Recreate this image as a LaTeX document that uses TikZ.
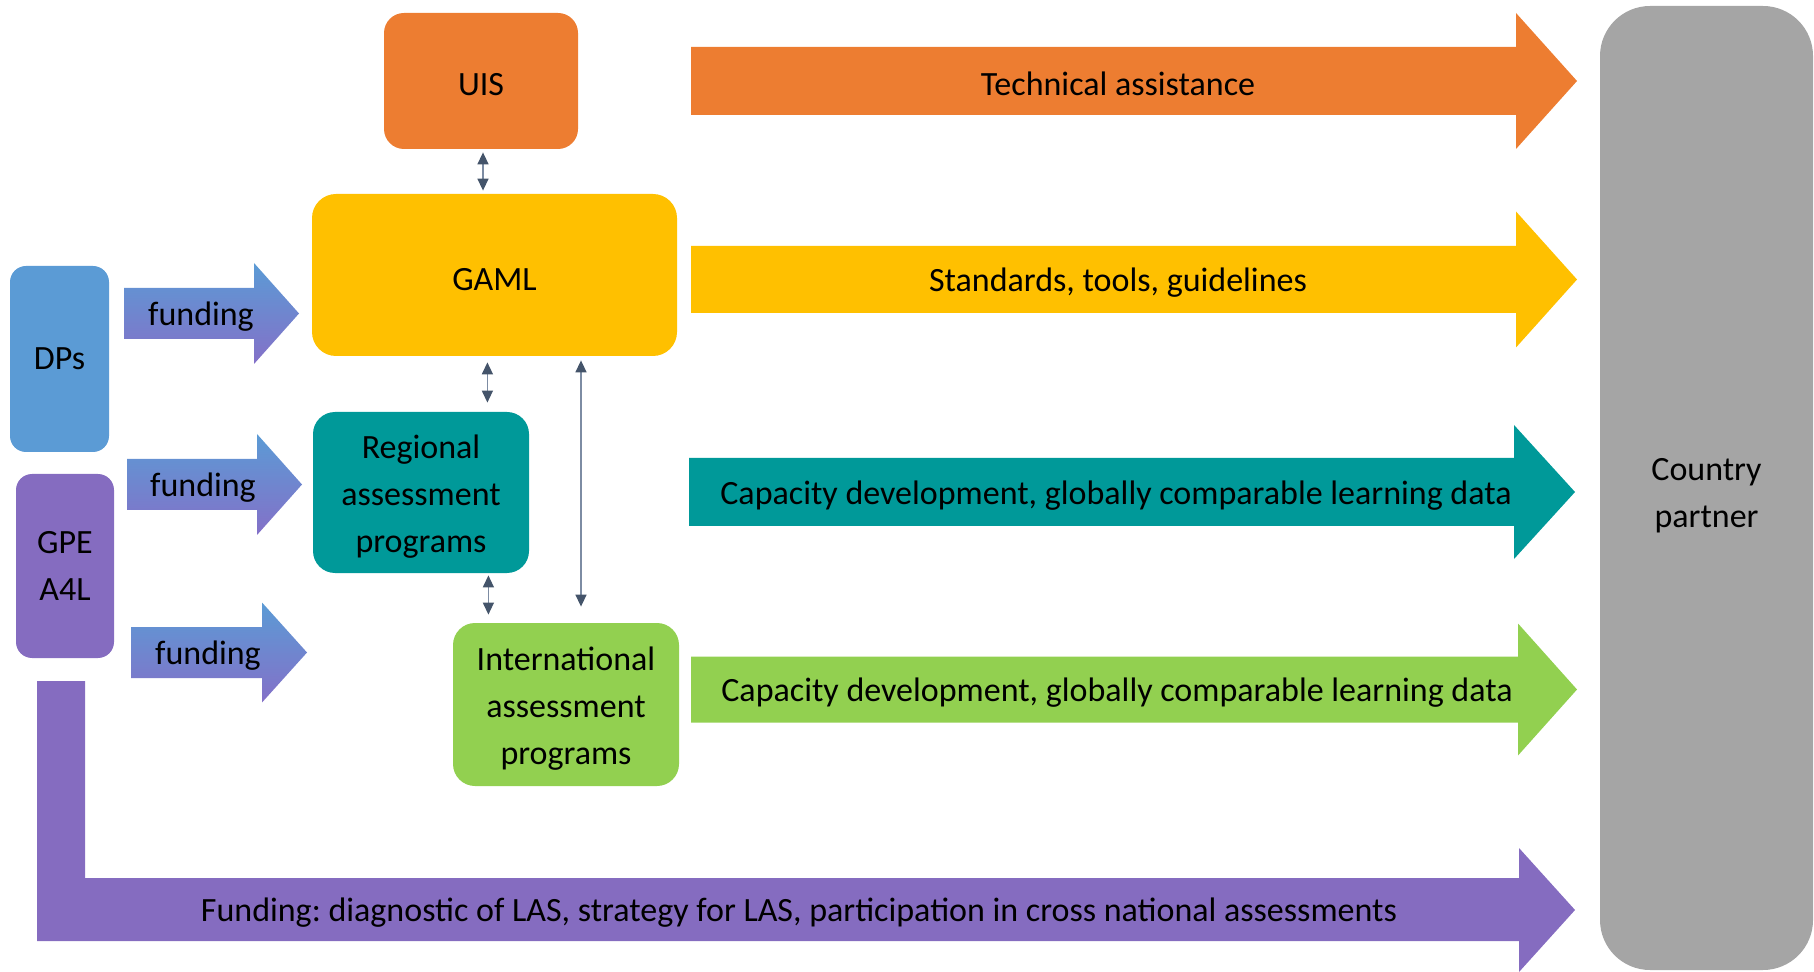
\documentclass[tikz,border=0pt]{standalone}
\usepackage{fontspec}
\setmainfont{Carlito}
\frenchspacing
\usetikzlibrary{arrows.meta}

\definecolor{cOrange}{HTML}{ED7D31}
\definecolor{cYellow}{HTML}{FFC000}
\definecolor{cTeal}{HTML}{009999}
\definecolor{cGreen}{HTML}{92D050}
\definecolor{cBlue}{HTML}{5B9BD5}
\definecolor{cPurple}{HTML}{856CC0}
\definecolor{cGrey}{HTML}{A5A5A5}
\definecolor{cSlate}{HTML}{44546A}
\definecolor{cLine}{HTML}{7D8CA3}
\definecolor{cFundTop}{HTML}{5B9BD5}
\definecolor{cFundBot}{HTML}{8470C8}

\newcommand\lblfont{\fontsize{17}{23.5}\selectfont}

% block arrow: #1 fill options, #2 left x, #3 head base x, #4 tip x,
% #5 centre y, #6 half shaft width, #7 half head width
\newcommand\blockarrow[7]{%
  \path[#1] (#2,{#5-#6}) -- (#3,{#5-#6}) -- (#3,{#5-#7}) -- (#4,#5)
    -- (#3,{#5+#7}) -- (#3,{#5+#6}) -- (#2,{#5+#6}) -- cycle;}

\begin{document}
\begin{tikzpicture}[x=0.5pt,y=-0.5pt,
  box/.style={rounded corners=#1, inner sep=0pt},
  box/.default=10pt,
  lbl/.style={inner sep=0pt, align=center, font=\lblfont},
  dbl/.style={{Triangle[length=6pt,width=5.5pt,color=cSlate]}-{Triangle[length=6pt,width=5.5pt,color=cSlate]},
    draw=cLine, line width=0.75pt}]
\useasboundingbox (0,0) rectangle (1814,972);

% organisations
\node[box=10pt, fill=cOrange, minimum width=97pt, minimum height=68pt,
  label={[lbl,yshift=-2pt]center:UIS}] (UIS) at (481,81) {};
\node[box=12pt, fill=cYellow, minimum width=182.5pt, minimum height=81pt,
  label={[lbl,yshift=-2.5pt]center:GAML}] (GAML) at (494.5,275) {};
\node[box=11pt, fill=cTeal, minimum width=108pt, minimum height=80.5pt,
  label={[lbl,yshift=-2pt]center:Regional\\assessment\\programs}] (REG) at (421,492.5) {};
\node[box=11pt, fill=cGreen, minimum width=113pt, minimum height=81.5pt,
  label={[lbl,yshift=-2pt]center:International\\assessment\\programs}] (INT) at (566,704.5) {};
\node[box=8pt, fill=cBlue, minimum width=49.5pt, minimum height=93pt,
  label={[lbl]center:DPs}] (DP) at (59.5,359) {};
\node[box=8pt, fill=cPurple, minimum width=49pt, minimum height=92pt,
  label={[lbl]center:GPE\\A4L}] (GPE) at (65,566) {};
\node[box=25pt, fill=cGrey, minimum width=106.5pt, minimum height=482pt,
  label={[lbl,yshift=-4pt]center:Country\\partner}] (CP) at (1706.5,488) {};

% funding arrows
\blockarrow{top color=cFundTop, bottom color=cFundBot}{124}{254}{299}{313.5}{25.5}{50.5}
\blockarrow{top color=cFundTop, bottom color=cFundBot}{127}{257}{302}{484.5}{25.5}{50.5}
\blockarrow{top color=cFundTop, bottom color=cFundBot}{131}{262}{307}{652.5}{25.5}{50}
\node[lbl] (f1) at (201,317) {funding};
\node[lbl] (f2) at (203,488) {funding};
\node[lbl] (f3) at (208,656) {funding};

% outputs towards the country partner
\blockarrow{fill=cOrange}{691}{1516}{1577}{81}{34}{68}
\blockarrow{fill=cYellow}{691}{1516}{1577}{279.5}{33.5}{68}
\blockarrow{fill=cTeal}{689}{1514}{1575}{492}{34}{67}
\blockarrow{fill=cGreen}{691}{1518}{1577}{689.5}{33}{66}
\node[lbl] (tTA) at (1118,84) {Technical assistance};
\node[lbl] (tST) at (1118,283) {Standards, tools, guidelines};
\node[lbl] (tCD1) at (1116,495.5) {Capacity development, globally comparable learning data};
\node[lbl] (tCD2) at (1117,693) {Capacity development, globally comparable learning data};

% GPE funding path to the country partner
\fill[cPurple] (37,681) -- (85,681) -- (85,878) -- (1519,878) -- (1519,848) -- (1575,910)
  -- (1519,972) -- (1519,941) -- (37,941) -- cycle;
\node[lbl] (tFund) at (799,913) {Funding: diagnostic of LAS, strategy for LAS, participation in cross national assessments};

% links between organisations
\draw[dbl, shorten <=1.5pt, shorten >=1.5pt] ([xshift=1pt]UIS.south) -- ([xshift=1pt]UIS.south |- GAML.north);
\draw[dbl, shorten <=4.5pt, shorten >=3pt] ([xshift=-21pt]REG.north east) -- ([xshift=-21pt]REG.north east |- GAML.south);
\draw[dbl, shorten <=1pt, shorten >=4pt] ([xshift=-20.5pt]REG.south east) -- ([xshift=-20.5pt]REG.south east |- INT.north);
\draw[dbl, shorten <=8pt, shorten >=2pt] ([xshift=7.5pt]INT.north) -- ([xshift=7.5pt]INT.north |- GAML.south);
\end{tikzpicture}
\end{document}
